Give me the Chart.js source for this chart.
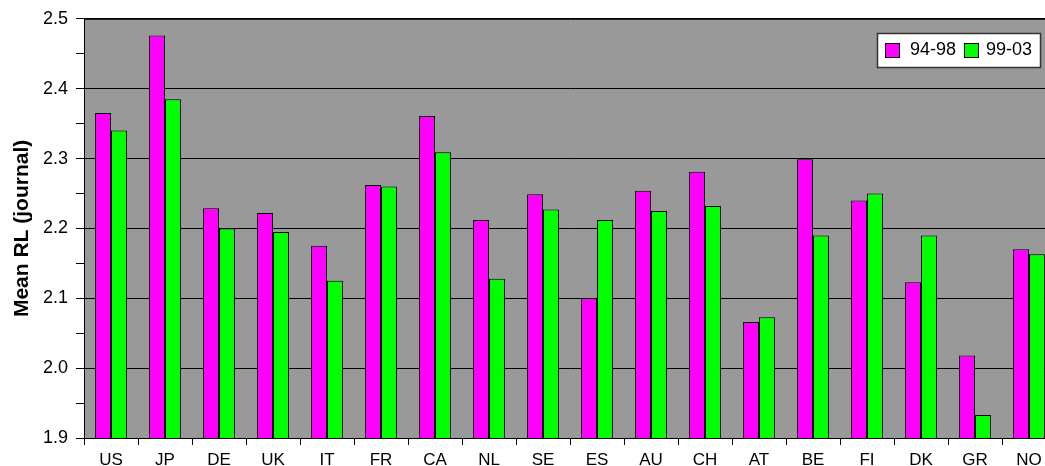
<!DOCTYPE html>
<html>
<head>
<meta charset="utf-8">
<script src="https://cdn.jsdelivr.net/npm/chart.js@4/dist/chart.umd.min.js"></script>
<style>
html,body{margin:0;padding:0;background:#fff;overflow:hidden;}
#wrap{position:relative;width:1060px;height:466px;}
</style>
</head>
<body>
<div id="wrap"><canvas id="c" width="1060" height="466"></canvas></div>
<script>
const categories = ['US','JP','DE','UK','IT','FR','CA','NL','SE','ES','AU','CH','AT','BE','FI','DK','GR','NO'];
const series1Label = '94-98';
const series2Label = '99-03';
const series1 = [2.365,2.476,2.229,2.222,2.175,2.262,2.361,2.212,2.249,2.100,2.254,2.281,2.066,2.299,2.240,2.123,2.018,2.170];
const series2 = [2.340,2.385,2.200,2.195,2.125,2.260,2.309,2.128,2.227,2.212,2.225,2.232,2.073,2.190,2.250,2.190,1.933,2.163];
const yMin = 1.9, yMax = 2.5, yStep = 0.05;
const yTitle = 'Mean RL (journal)';

const FONT = 'Arial, "Liberation Sans", sans-serif';

const bgPlugin = {
  id: 'bg',
  beforeDraw(chart){
    const {ctx, chartArea:a} = chart;
    ctx.save();
    ctx.fillStyle = '#999999';
    ctx.fillRect(a.left, a.top, a.right-a.left, a.bottom-a.top);
    ctx.restore();
  },
  afterDraw(chart){
    const {ctx, chartArea:a} = chart;
    ctx.save();
    ctx.strokeStyle = '#000';
    ctx.lineWidth = 1;
    ctx.strokeRect(a.left+0.5, a.top+0.5, a.right-a.left, a.bottom-a.top);
    // legend
    const lx = 877, ly = 33, lw = 163, lh = 34;
    ctx.fillStyle = '#fff';
    ctx.fillRect(lx, ly, lw, lh);
    ctx.strokeStyle = '#333';
    ctx.lineWidth = 1.5;
    ctx.strokeRect(lx+0.5, ly+0.5, lw, lh);
    const ds = chart.data.datasets;
    const items = [{x:885, tx:910}, {x:964, tx:986}];
    ctx.font = '18px ' + FONT;
    ctx.textBaseline = 'middle';
    items.forEach((it,i)=>{
      ctx.fillStyle = ds[i].backgroundColor;
      ctx.fillRect(it.x, 43, 14, 14);
      ctx.strokeStyle = '#000';
      ctx.lineWidth = 1;
      ctx.strokeRect(it.x+0.5, 43.5, 14, 14);
      ctx.fillStyle = '#000';
      ctx.fillText(ds[i].label, it.tx, 50.5);
    });
    ctx.restore();
  }
};

const isMajor = v => Math.round(v*100) % 10 === 0;

new Chart(document.getElementById('c'), {
  type: 'bar',
  data: {
    labels: categories,
    datasets: [
      {label: series1Label, data: series1, backgroundColor: '#ff00ff', borderColor: '#000', borderWidth: 1, borderSkipped: 'bottom'},
      {label: series2Label, data: series2, backgroundColor: '#00ff00', borderColor: '#000', borderWidth: 1, borderSkipped: 'bottom'}
    ]
  },
  options: {
    responsive: false,
    animation: false,
    devicePixelRatio: 1,
    layout: {padding: {top: 18, right: 4, left: 0, bottom: 0}},
    plugins: {legend: {display: false}, tooltip: {enabled: false}},
    datasets: {bar: {categoryPercentage: 0.59, barPercentage: 1.0}},
    scales: {
      x: {
        offset: true,
        grid: {offset: true, color: 'rgba(0,0,0,0)', tickColor: '#000', tickLength: 7, drawOnChartArea: false},
        border: {display: true, color: '#000'},
        ticks: {color: '#000', font: {family: FONT, size: 17}, padding: 5, maxRotation: 0, autoSkip: false},
        afterFit(s){ s.height = 28; }
      },
      y: {
        min: yMin, max: yMax,
        grid: {
          color: ctx => (ctx.tick && isMajor(ctx.tick.value)) ? '#000' : 'rgba(0,0,0,0)',
          tickColor: '#000', tickLength: 8, lineWidth: 1
        },
        border: {display: true, color: '#000'},
        ticks: {
          stepSize: yStep,
          color: '#000', font: {family: FONT, size: 18}, padding: 8,
          callback: v => isMajor(v) ? v.toFixed(1) : ''
        },
        title: {display: true, text: yTitle, color: '#000', font: {family: FONT, size: 21, weight: 'bold'}, padding: {top: 10, bottom: 0}},
        afterFit(s){ s.width = 84; }
      }
    }
  },
  plugins: [bgPlugin]
});
</script>
</body>
</html>
